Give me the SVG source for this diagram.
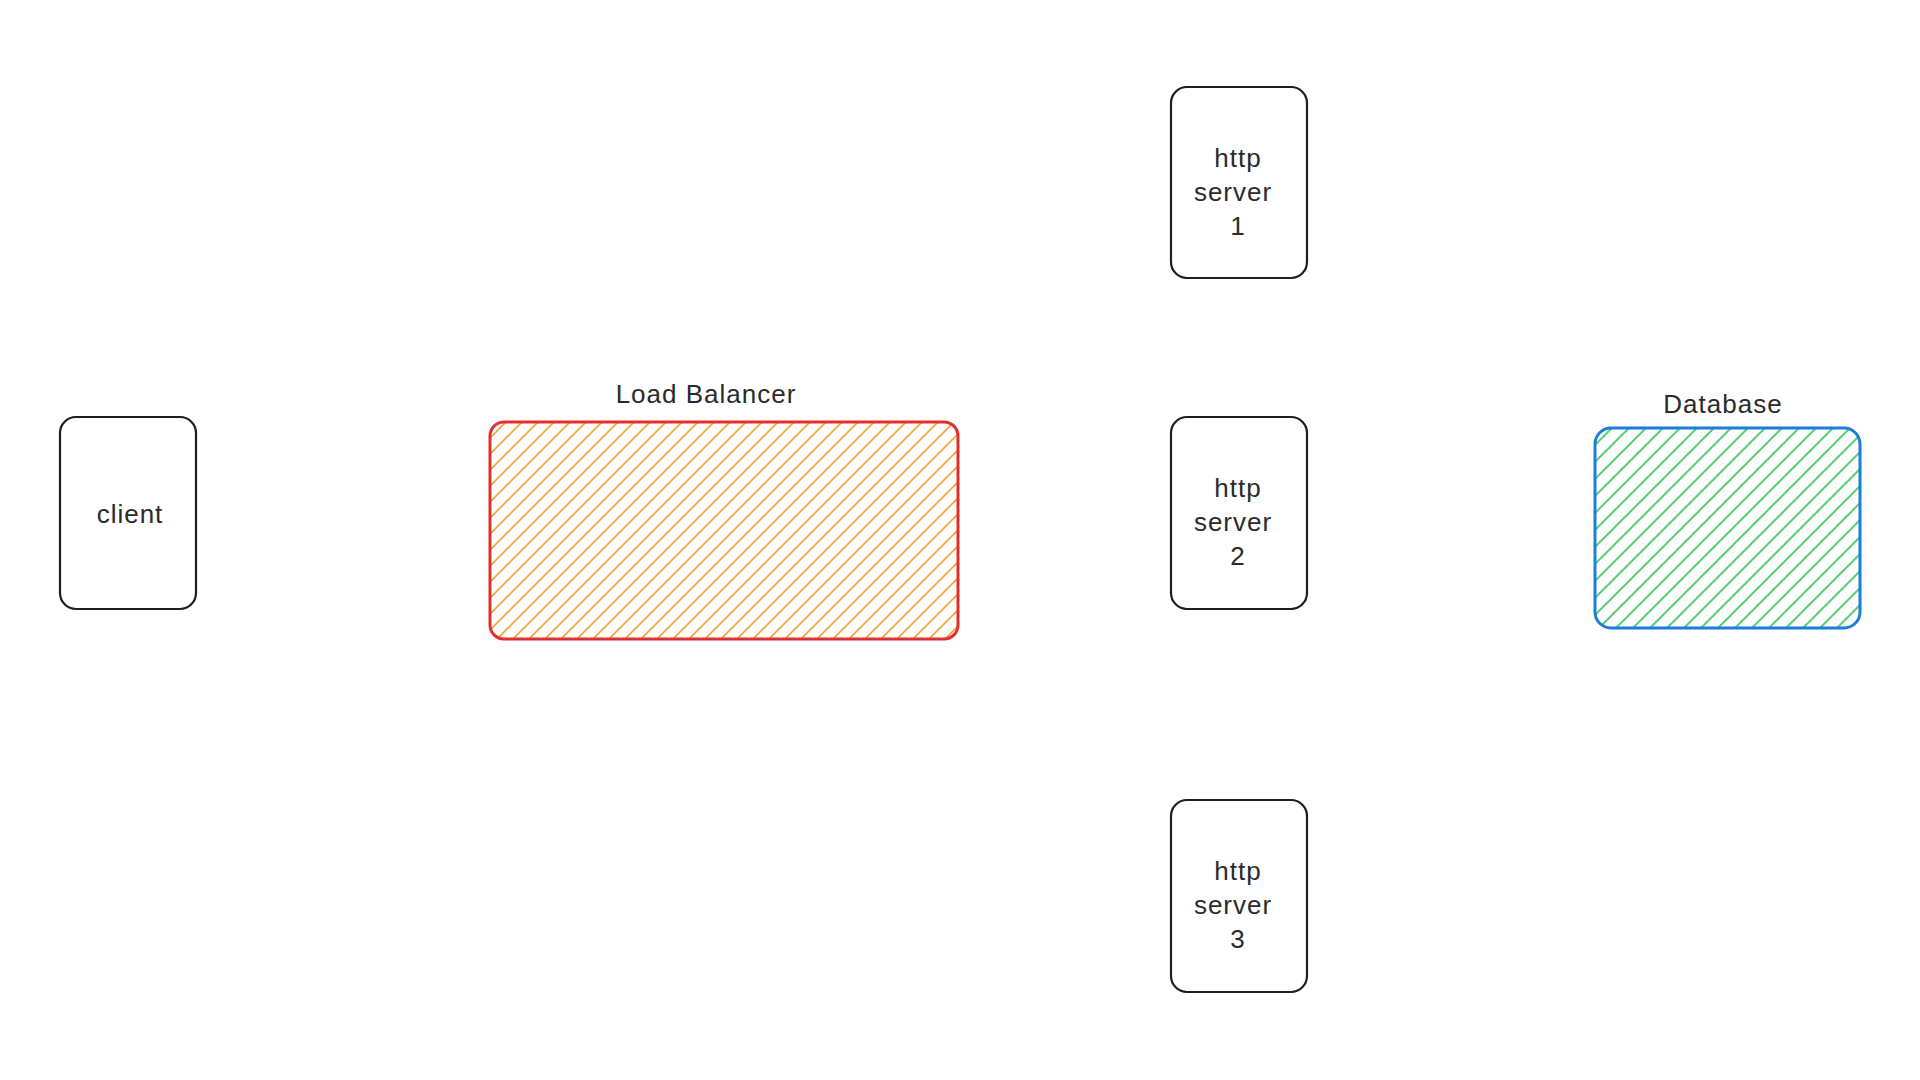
<svg xmlns="http://www.w3.org/2000/svg" width="1920" height="1080" viewBox="0 0 1920 1080">
<style>
.box{fill:#ffffff;stroke:#1e1e1e;stroke-width:2.2}
.lbl{font-family:"Liberation Sans","Noto Sans",sans-serif;font-size:26px;fill:#2b2b2b;text-anchor:middle;letter-spacing:1px}
</style>
<defs>
<pattern id="hatchOrange" patternUnits="userSpaceOnUse" width="16" height="16">
<path d="M-4,4 L4,-4 M0,16 L16,0 M12,20 L20,12" stroke="#f3a03c" stroke-width="1.6"/>
</pattern>
<pattern id="hatchGreen" patternUnits="userSpaceOnUse" width="17" height="17">
<path d="M-4,4 L4,-4 M0,17 L17,0 M13,21 L21,13" stroke="#5ccf75" stroke-width="2"/>
</pattern>
</defs>
<rect width="1920" height="1080" fill="#ffffff"/>
<g id="client">
<rect class="box" x="60" y="417" width="136" height="192" rx="16"/>
<text class="lbl" x="130" y="523">client</text>
</g>
<g id="load-balancer">
<text class="lbl" x="706" y="403">Load Balancer</text>
<rect x="490" y="422" width="468" height="217" rx="14" fill="url(#hatchOrange)" stroke="#e03131" stroke-width="3"/>
</g>
<g id="http-server-1">
<rect class="box" x="1171" y="87" width="136" height="191" rx="16"/>
<text class="lbl" x="1238" y="167">http</text>
<text class="lbl" x="1233" y="201">server</text>
<text class="lbl" x="1238" y="235">1</text>
</g>
<g id="http-server-2">
<rect class="box" x="1171" y="417" width="136" height="192" rx="16"/>
<text class="lbl" x="1238" y="497">http</text>
<text class="lbl" x="1233" y="531">server</text>
<text class="lbl" x="1238" y="565">2</text>
</g>
<g id="http-server-3">
<rect class="box" x="1171" y="800" width="136" height="192" rx="16"/>
<text class="lbl" x="1238" y="880">http</text>
<text class="lbl" x="1233" y="914">server</text>
<text class="lbl" x="1238" y="948">3</text>
</g>
<g id="database">
<text class="lbl" x="1723" y="413">Database</text>
<rect x="1595" y="428" width="265" height="200" rx="16" fill="url(#hatchGreen)" stroke="#1c7ed6" stroke-width="3"/>
</g>
<g id="connectors"></g>
</svg>
